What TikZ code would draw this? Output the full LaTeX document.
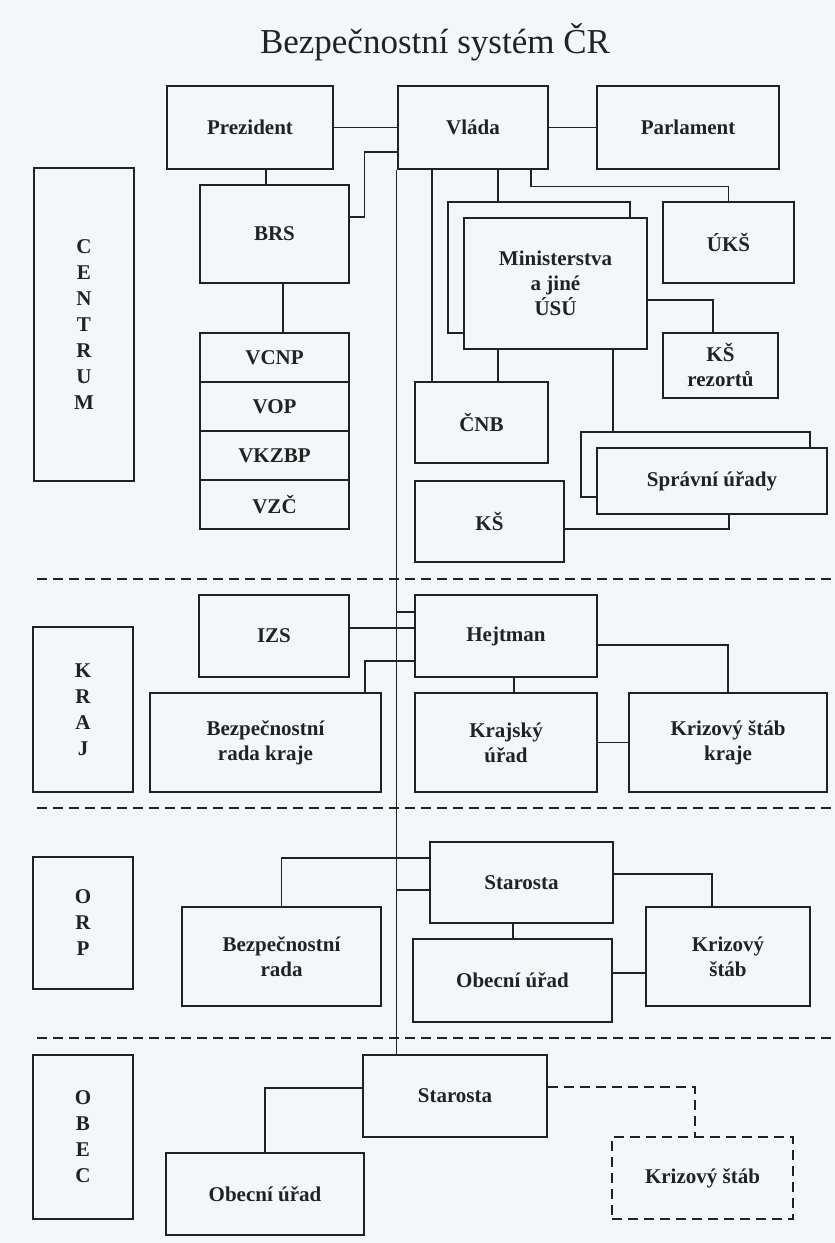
\documentclass[tikz,border=0pt]{standalone}
\usepackage{fontspec}
\setmainfont{Liberation Serif}
\definecolor{papir}{RGB}{244,247,249}
\definecolor{inkoust}{RGB}{34,34,34}

\tikzset{
    ubox/.style={draw=inkoust, line width=1.3pt, fill=papir, inner sep=0pt, align=center,
                 text=inkoust, font=\fontsize{21}{25}\selectfont\bfseries},
    hbox/.style={ubox, line width=2.8pt},
    lvl/.style={hbox, font=\fontsize{21}{26}\selectfont\bfseries, minimum width=100pt},
    spoj/.style={draw=inkoust, line width=1.3pt},
    hranice/.style={draw=inkoust, line width=1.4pt, dash pattern=on 10pt off 6pt}
}

\begin{document}
\begin{tikzpicture}[x=1pt, y=-1pt]

    % Papír a okraje
    \fill[papir] (0,0) rectangle (835,1243);
    \useasboundingbox (0,0) rectangle (835,1243);

    % Nadpis
    \node[text=inkoust, font=\fontsize{35}{40}\selectfont] (nadpis) at (435,42) {Bezpečnostní systém ČR};

    % Úroveň centrum
    \node[lvl, minimum height=313pt] (centrum) at (84,324.5) {C\\E\\N\\T\\R\\U\\M};
    \node[hbox, minimum width=166pt, minimum height=83pt] (prez) at (250,127.5) {Prezident};
    \node[hbox, minimum width=150pt, minimum height=83pt] (vlada) at (473,127.5) {Vláda};
    \node[hbox, minimum width=182pt, minimum height=83pt] (parl) at (688,127.5) {Parlament};
    \node[ubox, minimum width=149pt, minimum height=98pt] (brs) at (274.5,234) {BRS};

    % Výbory pod BRS
    \node[ubox, minimum width=149pt, minimum height=49pt] (vcnp) at (274.5,357.5) {VCNP};
    \node[ubox, minimum width=149pt, minimum height=49pt] (vop) at (274.5,406.5) {VOP};
    \node[ubox, minimum width=149pt, minimum height=49pt] (vkzbp) at (274.5,455.5) {VKZBP};
    \node[ubox, minimum width=149pt, minimum height=49pt] (vzc) at (274.5,504.5) {VZČ};

    % Ministerstva (dva listy za sebou)
    \node[ubox, minimum width=182pt, minimum height=131pt] (minzad) at (539,267.5) {};
    \node[ubox, minimum width=183pt, minimum height=131pt] (min) at (555.5,283.5) {Ministerstva\\a jiné\\ÚSÚ};
    \node[ubox, minimum width=131pt, minimum height=81pt] (uks) at (728.5,242.5) {ÚKŠ};
    \node[ubox, minimum width=115pt, minimum height=65pt] (ksrez) at (720.5,365.5) {KŠ\\rezortů};
    \node[ubox, minimum width=133pt, minimum height=81pt] (cnb) at (481.5,422.5) {ČNB};

    % Správní úřady (dva listy za sebou)
    \node[ubox, minimum width=229pt, minimum height=65pt] (sprzad) at (695.5,464.5) {};
    \node[ubox, minimum width=230pt, minimum height=66pt] (spr) at (712,481) {Správní úřady};
    \node[ubox, minimum width=149pt, minimum height=81pt] (ks) at (489.5,521.5) {KŠ};

    % Úroveň kraj
    \node[lvl, minimum height=165pt] (kraj) at (83,709.5) {K\\R\\A\\J};
    \node[ubox, minimum width=150pt, minimum height=82pt] (izs) at (274,636) {IZS};
    \node[hbox, minimum width=182pt, minimum height=82pt] (hejt) at (506,636) {Hejtman};
    \node[ubox, minimum width=231pt, minimum height=99pt] (brk) at (265.5,742.5) {Bezpečnostní\\rada kraje};
    \node[ubox, minimum width=182pt, minimum height=99pt] (kru) at (506,742.5) {Krajský\\úřad};
    \node[ubox, minimum width=198pt, minimum height=99pt] (kskr) at (728,742.5) {Krizový štáb\\kraje};

    % Úroveň ORP
    \node[lvl, minimum height=132pt] (orp) at (83,923) {O\\R\\P};
    \node[hbox, minimum width=183pt, minimum height=81pt] (star) at (521.5,882.5) {Starosta};
    \node[ubox, minimum width=199pt, minimum height=99pt] (bro) at (281.5,956.5) {Bezpečnostní\\rada};
    \node[ubox, minimum width=199pt, minimum height=83pt] (obu) at (512.5,980.5) {Obecní úřad};
    \node[ubox, minimum width=164pt, minimum height=99pt] (kso) at (728,956.5) {Krizový\\štáb};

    % Úroveň obec
    \node[lvl, minimum height=164pt] (obec) at (83,1137) {O\\B\\E\\C};
    \node[hbox, minimum width=184pt, minimum height=82pt] (staro) at (455,1096) {Starosta};
    \node[ubox, minimum width=198pt, minimum height=82pt] (obuo) at (265,1194) {Obecní úřad};
    \node[ubox, minimum width=181pt, minimum height=82pt, line width=1.4pt, dash pattern=on 10pt off 6pt] (ksob) at (702.5,1178) {Krizový štáb};

    % Hranice úrovní
    \draw[hranice] (37,579) -- (835,579);
    \draw[hranice] (37,808) -- (835,808);
    \draw[hranice] (37,1038) -- (835,1038);

    % Hlavní svislá linie od vlády
    \draw[spoj] (vlada.south west) -- (vlada.south west |- staro.north);

    % Spoje v centru
    \draw[spoj] (prez.east) -- (vlada.west);
    \draw[spoj] (vlada.east) -- (parl.west);
    \draw[spoj] ([xshift=16pt]prez.south) -- ([xshift=-8.5pt]brs.north);
    \draw[spoj] ([yshift=17pt]brs.east) -- ++(15,0) |- ([yshift=-24.5pt]vlada.west);
    \draw[spoj] ([xshift=8.5pt]brs.south) -- ([xshift=8.5pt]vcnp.north);
    \draw[spoj] ([xshift=-41pt]vlada.south) -- ([xshift=-41pt]vlada.south |- cnb.north);
    \draw[spoj] ([xshift=25pt]vlada.south) -- ([xshift=25pt]vlada.south |- minzad.north);
    \draw[spoj] ([xshift=58pt]vlada.south) -- ++(0,16) -| (uks.north);
    \draw[spoj] ([yshift=-16.5pt]min.east) -| ([xshift=-7.5pt]ksrez.north);
    \draw[spoj] ([xshift=-57.5pt]min.south) -- ([xshift=-57.5pt]min.south |- cnb.north);
    \draw[spoj] ([xshift=57.5pt]min.south) -- ([xshift=57.5pt]min.south |- sprzad.north);
    \draw[spoj] ([yshift=-7.5pt]ks.east) -| ([xshift=17pt]spr.south);

    % Spoje v kraji
    \draw[spoj] ([yshift=8pt]izs.east) -- ([yshift=8pt]hejt.west);
    \draw[spoj] ([yshift=24pt]hejt.west) -- ([yshift=24pt]hejt.west -| vlada.south west);
    \draw[spoj] ([xshift=99.5pt]brk.north) |- ([yshift=-25pt]hejt.west);
    \draw[spoj] ([xshift=8pt]hejt.south) -- ([xshift=8pt]kru.north);
    \draw[spoj] ([yshift=-9pt]hejt.east) -| (kskr.north);
    \draw[spoj] (kru.east) -- (kskr.west);

    % Spoje v ORP
    \draw[spoj] (bro.north) |- ([yshift=24.5pt]star.west);
    \draw[spoj] ([yshift=-7.5pt]star.west) -- ([yshift=-7.5pt]star.west -| vlada.south west);
    \draw[spoj] ([yshift=8.5pt]star.east) -| ([xshift=-16pt]kso.north);
    \draw[spoj] ([xshift=-8.5pt]star.south) -- ([xshift=-8.5pt]star.south |- obu.north);
    \draw[spoj] ([yshift=7.5pt]obu.east) -- ([yshift=7.5pt]obu.east -| kso.west);

    % Spoje v obci
    \draw[spoj] ([yshift=8pt]staro.west) -| (obuo.north);
    \draw[spoj, dash pattern=on 10pt off 6pt] ([yshift=9pt]staro.east) -| ([xshift=-7.5pt]ksob.north);

\end{tikzpicture}
\end{document}
